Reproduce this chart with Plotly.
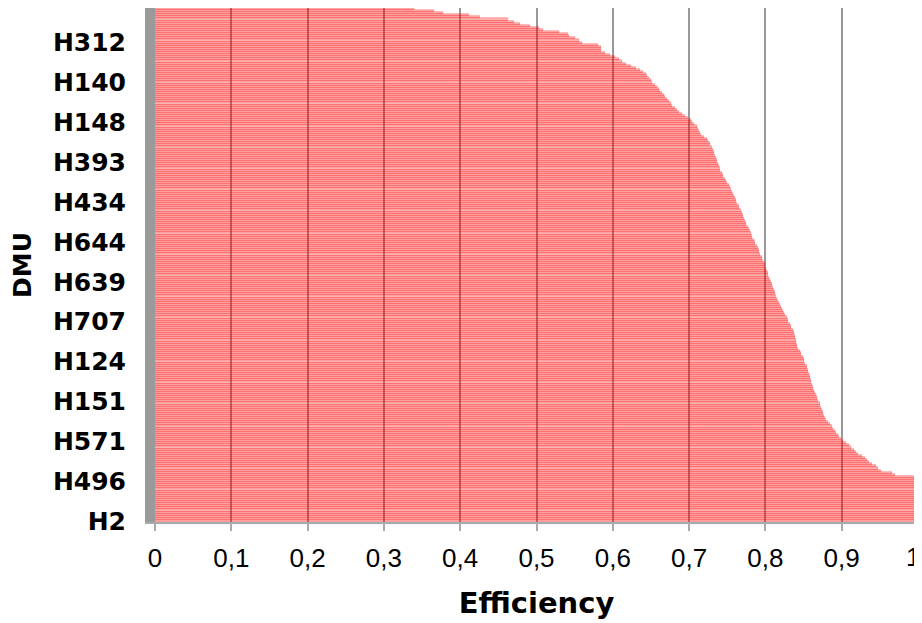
import plotly.graph_objects as go

# Efficiency per DMU, from bottom (index 0) to top (index 244)
efficiency = [
    1.0, 1.0, 1.0, 1.0, 1.0, 1.0, 1.0, 1.0, 1.0, 1.0, 1.0,
    1.0, 1.0, 1.0, 1.0, 1.0, 1.0, 1.0, 1.0, 1.0, 1.0, 1.0,
    0.970, 0.966, 0.952, 0.948, 0.945, 0.940, 0.936, 0.933, 0.930, 0.927,
    0.922, 0.919, 0.916, 0.912, 0.909, 0.905, 0.902, 0.899, 0.896, 0.895,
    0.893, 0.891, 0.889, 0.887, 0.885, 0.882, 0.879, 0.878, 0.877, 0.876,
    0.875, 0.874, 0.873, 0.872, 0.871, 0.869, 0.868, 0.867, 0.866, 0.865,
    0.864, 0.863, 0.862, 0.861, 0.860, 0.860, 0.859, 0.858, 0.857, 0.856,
    0.856, 0.855, 0.854, 0.852, 0.851, 0.850, 0.849, 0.847, 0.846, 0.845,
    0.843, 0.842, 0.841, 0.840, 0.840, 0.839, 0.839, 0.838, 0.837, 0.836,
    0.834, 0.833, 0.832, 0.830, 0.829, 0.828, 0.826, 0.825, 0.823, 0.822,
    0.821, 0.819, 0.818, 0.816, 0.815, 0.814, 0.813, 0.812, 0.811, 0.810,
    0.809, 0.808, 0.807, 0.806, 0.805, 0.804, 0.803, 0.802, 0.801, 0.800,
    0.800, 0.799, 0.797, 0.796, 0.795, 0.793, 0.792, 0.791, 0.790, 0.789,
    0.787, 0.786, 0.785, 0.783, 0.782, 0.781, 0.780, 0.778, 0.777, 0.775,
    0.774, 0.773, 0.772, 0.771, 0.770, 0.769, 0.768, 0.766, 0.765, 0.763,
    0.762, 0.761, 0.760, 0.759, 0.757, 0.756, 0.755, 0.753, 0.752, 0.750,
    0.748, 0.747, 0.745, 0.744, 0.743, 0.741, 0.740, 0.739, 0.738, 0.737,
    0.736, 0.735, 0.734, 0.733, 0.732, 0.731, 0.730, 0.728, 0.727, 0.725,
    0.724, 0.719, 0.715, 0.714, 0.713, 0.712, 0.711, 0.707, 0.704, 0.702,
    0.698, 0.694, 0.691, 0.687, 0.684, 0.681, 0.678, 0.676, 0.674, 0.671,
    0.669, 0.667, 0.664, 0.662, 0.660, 0.658, 0.655, 0.652, 0.650, 0.648,
    0.645, 0.643, 0.640, 0.635, 0.630, 0.624, 0.617, 0.612, 0.608, 0.603,
    0.596, 0.590, 0.585, 0.584, 0.584, 0.580, 0.560, 0.556, 0.550, 0.543,
    0.541, 0.530, 0.509, 0.503, 0.492, 0.478, 0.470, 0.462, 0.426, 0.411,
    0.378, 0.366, 0.339,
]

# DMU labels shown on the category axis (every 19th DMU, from the bottom)
dmu_labels = ["H2", "H496", "H571", "H151", "H124", "H707", "H639",
              "H644", "H434", "H393", "H148", "H140", "H312"]
label_step = 19

x_ticks = [0, 0.1, 0.2, 0.3, 0.4, 0.5, 0.6, 0.7, 0.8, 0.9, 1]
x_tick_text = ["0", "0,1", "0,2", "0,3", "0,4", "0,5", "0,6", "0,7", "0,8", "0,9", "1"]

positions = list(range(len(efficiency)))
label_positions = [i * label_step for i in range(len(dmu_labels))]

# the last tick label sits at the right edge; draw it as an annotation so it
# stays inside the figure
axis_tick_text = x_tick_text[:-1] + [""]
tick_font = dict(family="Liberation Sans, Arial", size=26, color="black")

fig = go.Figure(
    go.Bar(
        x=efficiency,
        y=positions,
        orientation="h",
        marker=dict(color="rgba(255,0,0,0.30)",
                    line=dict(color="rgba(255,0,0,0.45)", width=0.6)),
        hoverinfo="x",
    )
)

fig.add_annotation(
    x=x_ticks[-1], xref="x", y=0, yref="paper",
    text=x_tick_text[-1], showarrow=False,
    xanchor="right", xshift=4,
    yanchor="middle", yshift=-35,
    font=tick_font,
)

fig.update_layout(
    width=914,
    height=615,
    margin=dict(l=147, r=4, t=0, b=101),
    paper_bgcolor="white",
    plot_bgcolor="white",
    bargap=0,
    showlegend=False,
    xaxis=dict(
        range=[0, 1],
        tickvals=x_ticks,
        ticktext=axis_tick_text,
        tickfont=tick_font,
        ticklabelstandoff=5,
        showgrid=True,
        gridcolor="#999999",
        gridwidth=2,
        zeroline=False,
        showline=True,
        linecolor="#aaaaaa",
        linewidth=2,
        ticks="outside",
        ticklen=7,
        tickwidth=2,
        tickcolor="#aaaaaa",
        title=dict(text="Efficiency",
                   font=dict(family="DejaVu Sans", size=29, color="black", weight="bold"),
                   standoff=20),
        automargin=False,
    ),
    yaxis=dict(
        range=[-0.5, len(efficiency) - 0.5],
        tickvals=label_positions,
        ticktext=dmu_labels,
        tickfont=dict(family="DejaVu Sans", size=25, color="black", weight="bold"),
        showgrid=False,
        zeroline=False,
        showline=True,
        linecolor="#9a9a9a",
        linewidth=10,
        ticks="",
        ticklabelstandoff=14,
        title=dict(text="DMU",
                   font=dict(family="DejaVu Sans", size=25, color="black", weight="bold"),
                   standoff=25),
        automargin=False,
    ),
)

fig.write_html("out.html", config={"displayModeBar": False})
